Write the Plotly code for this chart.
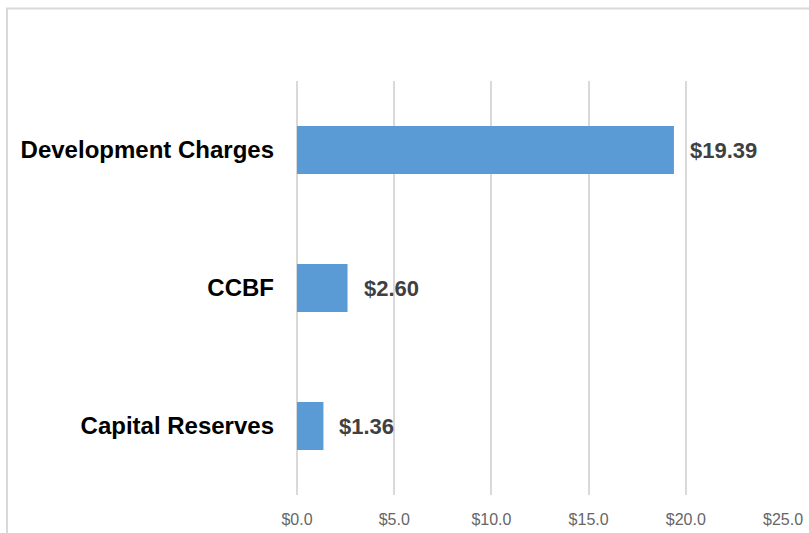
import plotly.graph_objects as go

categories = ["Development Charges", "CCBF", "Capital Reserves"]
values = [19.39, 2.60, 1.36]
value_labels = ["$19.39", "$2.60", "$1.36"]
tick_vals = [0, 5, 10, 15, 20, 25]
tick_text = ["$0.0", "$5.0", "$10.0", "$15.0", "$20.0", "$25.0"]

fig = go.Figure()
fig.add_trace(go.Bar(
    y=categories, x=values, orientation="h",
    marker=dict(color="#5b9bd5", line=dict(width=0)),
    width=0.348, hoverinfo="skip",
))

for c, v, t in zip(categories, values, value_labels):
    fig.add_annotation(x=v, y=c, text="<b>" + t + "</b>", showarrow=False,
                       xanchor="left", yanchor="middle", xshift=14,
                       font=dict(family="Liberation Sans, Arial", size=22, color="#404040"))

W, H = 809, 533
L, R, T, B = 297, 26, 81, 38
pw, ph = W - L - R, H - T - B

def px(x):
    return (x - L) / pw

def py(y):
    return (H - B - y) / ph

fig.add_shape(type="rect", xref="paper", yref="paper",
              x0=px(7), x1=px(830), y0=py(560), y1=py(8.5),
              line=dict(color="#d9d9d9", width=2), fillcolor="rgba(0,0,0,0)", layer="below")

fig.update_layout(
    width=W, height=H,
    margin=dict(l=L, r=R, t=T, b=B, pad=0, autoexpand=False),
    paper_bgcolor="white", plot_bgcolor="white",
    showlegend=False,
    font=dict(family="Liberation Sans, Arial"),
    xaxis=dict(range=[0, 25], tickvals=tick_vals, ticktext=tick_text,
               automargin=False,
               showgrid=True, gridcolor="#d9d9d9", gridwidth=1.5,
               zeroline=True, zerolinecolor="#d9d9d9", zerolinewidth=1.5,
               showline=False, ticks="",
               ticklabelstandoff=13,
               tickfont=dict(family="Liberation Sans, Arial", size=16, color="#666666")),
    yaxis=dict(categoryorder="array", categoryarray=categories[::-1],
               automargin=False,
               range=[-0.5, 2.5], showgrid=False, zeroline=False, showline=False, ticks="",
               ticklabelstandoff=22,
               tickfont=dict(family="Liberation Sans, Arial", size=24, color="#000000")),
)
fig.update_yaxes(tickprefix="<b>", ticksuffix="</b>")

fig.write_html("out.html")
